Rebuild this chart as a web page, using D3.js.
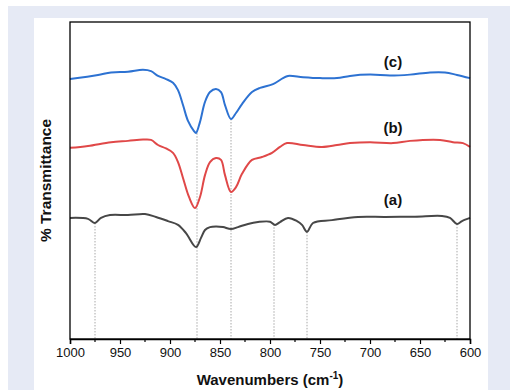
<!DOCTYPE html>
<html>
<head>
<meta charset="utf-8">
<script src="https://cdn.jsdelivr.net/npm/d3@7"></script>
<style>
  body { margin: 0; background: #fff; }
  svg { display: block; font-family: "Liberation Sans", Arial, sans-serif; }
</style>
</head>
<body>
<svg id="chart" width="510" height="390"></svg>
<script>
// FTIR spectra, wavenumber (cm-1) vs % transmittance (offset traces)
const wnC = [1000, 972, 959, 942, 927, 919, 912, 904, 897, 892, 887, 882, 876, 874, 870, 865, 860, 854, 849, 845, 839, 834, 828, 818, 810, 797, 787, 782, 767, 750, 733, 720, 700, 680, 660, 640, 625, 613, 600];
const tC  = [82.0, 83.3, 84.1, 84.3, 84.9, 84.5, 83.0, 82.0, 80.8, 78.5, 73.8, 68.8, 65.6, 65.0, 68.5, 74.8, 77.9, 78.9, 77.9, 73.8, 69.4, 71.3, 74.1, 77.9, 79.2, 80.4, 82.3, 83.0, 82.6, 82.3, 82.3, 83.0, 83.4, 83.1, 83.4, 84.1, 84.1, 83.3, 82.3];

const wnB = [1000, 982, 959, 942, 927, 919, 912, 904, 897, 892, 887, 881, 875, 870, 865, 860, 854, 849, 845, 839, 834, 828, 818, 808, 798, 790, 783, 767, 748, 733, 720, 700, 677, 660, 630, 617, 607, 600];
const tB  = [60.3, 60.9, 62.1, 62.5, 62.9, 62.8, 61.2, 60.1, 58.7, 55.8, 50.8, 44.8, 41.3, 44.8, 51.7, 55.8, 57.1, 56.5, 51.7, 46.4, 47.9, 52.1, 56.5, 57.4, 58.7, 60.6, 61.8, 61.2, 60.6, 61.2, 61.8, 62.1, 61.8, 62.5, 62.8, 62.1, 61.8, 60.6];

const wnA = [1000, 982, 975, 969, 960, 942, 925, 914, 902, 892, 884, 874, 869, 865, 860, 854, 847, 839, 832, 822, 812, 800, 795, 790, 782, 773, 768, 763, 757, 738, 712, 685, 655, 628, 620, 613, 608, 600];
const tA  = [38.2, 37.9, 36.6, 38.2, 39.1, 39.1, 39.4, 38.5, 37.2, 36.0, 33.4, 29.0, 31.9, 34.4, 35.3, 35.5, 35.3, 34.7, 35.3, 36.3, 36.9, 37.0, 36.0, 36.9, 38.2, 37.2, 36.0, 33.8, 36.6, 37.5, 38.5, 38.5, 38.6, 38.8, 38.2, 36.3, 37.2, 38.2];

const seriesNames = ["(a)", "(b)", "(c)"];
const seriesColors = ["#474747", "#e04848", "#2d72d2"];

// marked bands (dotted guide lines) and the trace they start from
const bandWn = [975, 873, 839, 796, 763, 613];
const bandFrom = [0, 2, 2, 0, 0, 0];

const xTicks = [1000, 950, 900, 850, 800, 750, 700, 650, 600];

const svg = d3.select("#chart");
const W = 510, H = 390;

// background frame
svg.append("rect").attr("x", 8).attr("y", 6).attr("width", W - 8).attr("height", H - 6).attr("fill", "#e6eaf5");
svg.append("rect").attr("x", 34).attr("y", 18).attr("width", 454).attr("height", H - 18).attr("fill", "#fff");

const m = { left: 70, right: 470, top: 22, bottom: 339 };

const x = d3.scaleLinear().domain([1000, 600]).range([m.left, m.right]);
const y = d3.scaleLinear().domain([0, 100]).range([m.bottom, m.top]);

const series = [
  wnA.map((w, i) => ({ w, t: tA[i] })),
  wnB.map((w, i) => ({ w, t: tB[i] })),
  wnC.map((w, i) => ({ w, t: tC[i] }))
];

function valueAt(s, w) {
  for (let i = 0; i < s.length - 1; i++) {
    const a = s[i], b = s[i + 1];
    if (w <= a.w && w >= b.w) {
      const f = (a.w - w) / (a.w - b.w);
      return a.t + f * (b.t - a.t);
    }
  }
  return s[s.length - 1].t;
}

// dotted guides
svg.append("g")
  .selectAll("line")
  .data(bandWn)
  .enter()
  .append("line")
  .attr("x1", d => x(d))
  .attr("x2", d => x(d))
  .attr("y1", (d, i) => y(valueAt(series[bandFrom[i]], d)))
  .attr("y2", m.bottom)
  .attr("stroke", "#a8a8a8")
  .attr("stroke-width", 1)
  .attr("stroke-dasharray", "1.5,1.5");

// spectra
const line = d3.line()
  .x(d => x(d.w))
  .y(d => y(d.t))
  .curve(d3.curveCatmullRom.alpha(0.5));

svg.append("g")
  .selectAll("path")
  .data(series)
  .enter()
  .append("path")
  .attr("d", line)
  .attr("fill", "none")
  .attr("stroke", (d, i) => seriesColors[i])
  .attr("stroke-width", 2)
  .attr("stroke-linejoin", "round");

// trace labels placed just above each baseline at ~677 cm-1
const labelOffset = [3.4, 2.7, 2.2];
svg.append("g")
  .selectAll("text")
  .data(seriesNames)
  .enter()
  .append("text")
  .attr("x", x(677))
  .attr("y", (d, i) => y(valueAt(series[i], 677) + labelOffset[i]))
  .attr("dy", "-0.1em")
  .attr("text-anchor", "middle")
  .attr("font-size", 15)
  .attr("font-weight", "bold")
  .attr("fill", "#111")
  .text(d => d);

// frame
svg.append("rect")
  .attr("x", m.left).attr("y", m.top)
  .attr("width", m.right - m.left).attr("height", m.bottom - m.top)
  .attr("fill", "none").attr("stroke", "#000").attr("stroke-width", 1.3);

// x axis
const xAxis = svg.append("g").attr("transform", "translate(0," + m.bottom + ")");
xAxis.call(d3.axisBottom(x).tickValues(xTicks).tickSize(5).tickPadding(4).tickFormat(d3.format("d")));
xAxis.select(".domain").attr("stroke-width", 1.5);
xAxis.selectAll(".tick line").attr("stroke-width", 1.2);
xAxis.selectAll("text").attr("font-size", 13).attr("font-family", "Liberation Sans, Arial, sans-serif").attr("fill", "#111");

const minor = d3.range(975, 600, -50);
xAxis.append("g")
  .selectAll("line")
  .data(minor)
  .enter()
  .append("line")
  .attr("x1", d => x(d)).attr("x2", d => x(d))
  .attr("y1", 0).attr("y2", 3)
  .attr("stroke", "#000").attr("stroke-width", 1.2);

// axis titles
const xt = svg.append("text")
  .attr("x", (m.left + m.right) / 2)
  .attr("y", 385)
  .attr("text-anchor", "middle")
  .attr("font-size", 15)
  .attr("font-weight", "bold")
  .attr("fill", "#111");
xt.append("tspan").text("Wavenumbers (cm");
xt.append("tspan").attr("dy", -6).attr("font-size", 10).text("-1");
xt.append("tspan").attr("dy", 6).text(")");

svg.append("text")
  .attr("transform", "translate(51," + ((m.top + m.bottom) / 2) + ") rotate(-90)")
  .attr("text-anchor", "middle")
  .attr("font-size", 15.5)
  .attr("font-weight", "bold")
  .attr("fill", "#111")
  .text("% Transmittance");
</script>
</body>
</html>
